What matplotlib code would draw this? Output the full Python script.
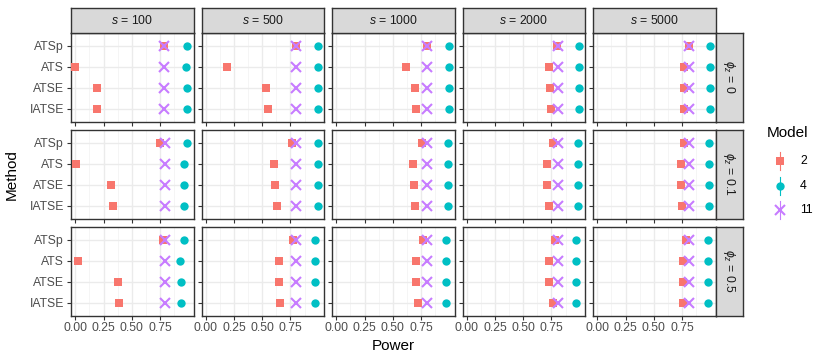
import matplotlib
matplotlib.use("Agg")
import matplotlib.pyplot as plt
from matplotlib.patches import Rectangle
from matplotlib.lines import Line2D

plt.rcParams['font.family'] = ['Liberation Sans', 'DejaVu Sans']
plt.rcParams['mathtext.fontset'] = 'custom'
plt.rcParams['mathtext.rm'] = 'Liberation Sans'
plt.rcParams['mathtext.it'] = 'Liberation Sans:italic'

methods = ["ATSp", "ATS", "ATSE", "IATSE"]
s_levels = ["100", "500", "1000", "2000", "5000"]
phi_levels = ["0", "0.1", "0.5"]
models = ["2", "4", "11"]

# power[phi][s] -> values per method (ATSp, ATS, ATSE, IATSE)
model2 = {
    "0":   {"100": [0.79, 0.00, 0.19, 0.19], "500": [0.80, 0.19, 0.53, 0.55],
            "1000": [0.80, 0.62, 0.70, 0.71], "2000": [0.80, 0.73, 0.74, 0.75],
            "5000": [0.81, 0.77, 0.77, 0.77]},
    "0.1": {"100": [0.75, 0.01, 0.32, 0.33], "500": [0.76, 0.60, 0.61, 0.63],
            "1000": [0.76, 0.68, 0.69, 0.70], "2000": [0.76, 0.71, 0.71, 0.73],
            "5000": [0.77, 0.74, 0.74, 0.75]},
    "0.5": {"100": [0.78, 0.02, 0.38, 0.39], "500": [0.77, 0.65, 0.65, 0.66],
            "1000": [0.77, 0.71, 0.71, 0.72], "2000": [0.78, 0.73, 0.73, 0.76],
            "5000": [0.79, 0.76, 0.76, 0.76]},
}
model4 = {
    "0":   {"100": [0.99, 0.98, 0.985, 0.985], "500": [0.995, 0.995, 0.995, 0.995],
            "1000": [0.995, 0.995, 0.995, 0.995], "2000": [0.994, 0.994, 0.994, 0.994],
            "5000": [0.997, 0.997, 0.997, 0.997]},
    "0.1": {"100": [0.985, 0.96, 0.964, 0.967], "500": [0.99, 0.99, 0.99, 0.99],
            "1000": [0.99, 0.99, 0.99, 0.99], "2000": [0.988, 0.988, 0.988, 0.988],
            "5000": [0.993, 0.993, 0.993, 0.993]},
    "0.5": {"100": [0.96, 0.93, 0.932, 0.935], "500": [0.967, 0.967, 0.967, 0.967],
            "1000": [0.97, 0.97, 0.97, 0.97], "2000": [0.967, 0.967, 0.967, 0.967],
            "5000": [0.978, 0.978, 0.978, 0.978]},
}
model11 = {
    "0":   {"100": [0.79, 0.79, 0.79, 0.79], "500": [0.80, 0.80, 0.80, 0.80],
            "1000": [0.804, 0.804, 0.804, 0.804], "2000": [0.804, 0.804, 0.804, 0.804],
            "5000": [0.81, 0.81, 0.81, 0.81]},
    "0.1": {"100": [0.795, 0.795, 0.795, 0.795], "500": [0.80, 0.80, 0.80, 0.80],
            "1000": [0.804, 0.804, 0.804, 0.804], "2000": [0.804, 0.804, 0.804, 0.804],
            "5000": [0.815, 0.815, 0.815, 0.815]},
    "0.5": {"100": [0.795, 0.795, 0.795, 0.795], "500": [0.80, 0.80, 0.80, 0.80],
            "1000": [0.804, 0.804, 0.804, 0.804], "2000": [0.804, 0.804, 0.804, 0.804],
            "5000": [0.81, 0.81, 0.81, 0.81]},
}
x_ticks = [0.0, 0.25, 0.5, 0.75]
x_tick_labels = ["0.00", "0.25", "0.50", "0.75"]

colors = {"2": "#F8766D", "4": "#00BFC4", "11": "#C77CFF"}
W, H = 830, 363
fig = plt.figure(figsize=(W / 100, H / 100), dpi=100)

col_left = [71, 201.5, 332, 462.5, 593]
pw = 122.5
row_top = [33, 130, 227]
ph = 88.5
strip_h = 25
strip_w = 27
edge = "#333333"

def fx(px): return px / W
def fy(py): return 1 - py / H

ypos = list(range(1, len(methods) + 1))
for r, phi in enumerate(phi_levels):
    for c, s in enumerate(s_levels):
        ax = fig.add_axes([fx(col_left[c]), fy(row_top[r] + ph), pw / W, ph / H])
        ax.set_xlim(-0.038, 1.047)
        ax.set_ylim(4.6, 0.4)
        ax.set_xticks(x_ticks)
        ax.set_xticks([0.125, 0.375, 0.625, 0.875], minor=True)
        ax.set_yticks(ypos)
        ax.grid(True, which='major', color='#EBEBEB', lw=1.0, zorder=0)
        ax.grid(True, which='minor', axis='x', color='#F2F2F2', lw=0.5, zorder=0)
        ax.set_axisbelow(True)
        for sp in ax.spines.values():
            sp.set_color(edge); sp.set_linewidth(1.0)
        ax.tick_params(which='major', length=3, width=0.8, color=edge,
                       labelcolor='#4D4D4D', labelsize=8.8, pad=2)
        ax.tick_params(which='minor', length=0)
        if c == 0:
            ax.set_yticklabels(methods)
        else:
            ax.set_yticklabels([])
        if r == len(phi_levels) - 1:
            ax.set_xticklabels(x_tick_labels)
        else:
            ax.set_xticklabels([])
        ax.plot(model2[phi][s], ypos, ls='none', marker='s', ms=6.2,
                color=colors["2"], mew=0, zorder=3)
        ax.plot(model4[phi][s], ypos, ls='none', marker='o', ms=6.0,
                color=colors["4"], mew=0, zorder=3)
        ax.plot(model11[phi][s], ypos, ls='none', marker='x', ms=6.5,
                color=colors["11"], mew=1.5, zorder=4)
        # top strip
        if r == 0:
            sax = fig.add_axes([fx(col_left[c]), fy(row_top[0]), pw / W, strip_h / H])
            sax.set_xticks([]); sax.set_yticks([])
            sax.set_facecolor('#D9D9D9')
            for sp in sax.spines.values():
                sp.set_color(edge); sp.set_linewidth(1.0)
            sax.text(0.5, 0.5, r"$s$ = " + s, ha='center', va='center',
                     fontsize=8.8, color='#1A1A1A', transform=sax.transAxes)
        if c == len(s_levels) - 1:
            rax = fig.add_axes([fx(col_left[c] + pw), fy(row_top[r] + ph), strip_w / W, ph / H])
            rax.set_xticks([]); rax.set_yticks([])
            rax.set_facecolor('#D9D9D9')
            for sp in rax.spines.values():
                sp.set_color(edge); sp.set_linewidth(1.0)
            rax.text(0.5, 0.5, r"$\phi_z$ = " + phi, ha='center', va='center',
                     rotation=270, fontsize=8.8, color='#1A1A1A', transform=rax.transAxes)

fig.text(fx(393), fy(346), "Power", ha='center', va='center', fontsize=11)
fig.text(fx(12), fy(175), "Method", ha='center', va='center', rotation=90, fontsize=11)

# legend
fig.text(fx(767), fy(133), "Model", ha='left', va='center', fontsize=11)
leg_y = [161, 186, 210]
markers = {"2": ('s', 6.2, 0), "4": ('o', 6.0, 0), "11": ('x', 6.5, 1.5)}
for m, yy in zip(models, leg_y):
    fig.add_artist(Line2D([fx(779.5), fx(779.5)], [fy(yy - 9), fy(yy + 9)],
                          color=colors[m], lw=0.8, transform=fig.transFigure))
    mk, ms, mew = markers[m]
    fig.add_artist(Line2D([fx(779.5)], [fy(yy)], marker=mk, ms=ms, mew=mew,
                          color=colors[m], ls='none', transform=fig.transFigure))
    fig.text(fx(800), fy(yy), m, ha='left', va='center', fontsize=8.8)

fig.savefig("out.png", dpi=100, facecolor='white')
